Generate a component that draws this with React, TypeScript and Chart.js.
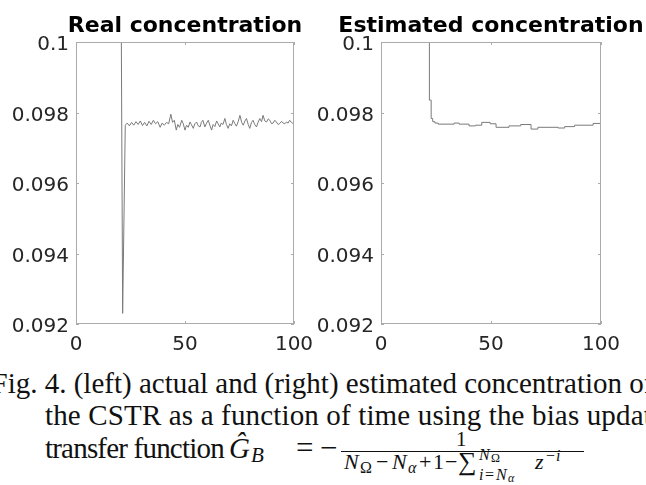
import React, { useEffect, useRef } from "react";
import { Chart, registerables } from "chart.js";

Chart.register(...registerables);

// ---------- data ----------
const realTime = [
  0, 20.8, 21.4, 22.6, 23.5, 24.5, 25.5, 26.5, 27.5, 28.5, 29.5, 30.5, 31.5, 32.5, 33.5, 34.5, 35.5,
  36.5, 37.5, 38.6, 39.5, 40.5, 41.5, 42.5, 43.5, 44.3, 45.1, 46, 46.7, 47.5, 48.5, 49.2, 50, 50.7,
  51.5, 52.3, 53, 53.8, 54.5, 55.3, 56.1, 56.9, 57.5, 58.2, 59.1, 59.9, 60.7, 61.5, 62.2, 62.9, 63.7,
  64.5, 65.2, 66, 66.6, 67.4, 68.3, 69, 69.8, 70.5, 71.3, 72.1, 72.9, 73.6, 74.4, 75.2, 76, 76.7,
  77.5, 78.2, 79, 79.7, 80.5, 81.2, 82, 82.8, 83.5, 84.3, 85.1, 85.8, 86.6, 87.4, 88.2, 88.9, 89.7,
  90.4, 91.2, 91.9, 92.7, 93.5, 94.3, 95, 95.8, 96.5, 97.3, 98, 98.8, 99.5, 100,
];
const realConc = [
  0.1, 0.1, 0.0923, 0.09764, 0.0977, 0.09762, 0.09772, 0.09764, 0.09774, 0.09766, 0.09776, 0.09763,
  0.09772, 0.09762, 0.09775, 0.09766, 0.09778, 0.09768, 0.09774, 0.09758, 0.0977, 0.09764, 0.09772,
  0.09768, 0.09795, 0.09772, 0.09778, 0.0975, 0.09766, 0.09758, 0.09778, 0.09768, 0.0975, 0.09764,
  0.09758, 0.09773, 0.09765, 0.09755, 0.09768, 0.09773, 0.09762, 0.09759, 0.09772, 0.09778, 0.09759,
  0.0977, 0.09778, 0.09762, 0.0975, 0.09766, 0.0976, 0.09776, 0.09768, 0.09759, 0.0977, 0.09766,
  0.09783, 0.09766, 0.09755, 0.09768, 0.09762, 0.09778, 0.09768, 0.09761, 0.09774, 0.09792, 0.09772,
  0.09764, 0.09776, 0.09783, 0.09766, 0.09755, 0.09772, 0.09778, 0.09766, 0.09759, 0.09772, 0.09783,
  0.09774, 0.09792, 0.09776, 0.09773, 0.09782, 0.09778, 0.09768, 0.0977, 0.09778, 0.09773, 0.09766,
  0.09769, 0.09775, 0.0977, 0.09768, 0.09773, 0.0977, 0.09778, 0.09772, 0.09769, 0.09772,
];

const estTime = [
  0, 22, 22.8, 23.5, 24.5, 26, 33.2, 35.5, 40, 43, 45.8, 49.6, 52.3, 58.2, 63.5, 68.2, 71.3, 80.5,
  83.5, 88, 96.4, 100,
];
const estConc = [
  0.1, 0.09835, 0.09783, 0.09774, 0.0977, 0.09767, 0.0977, 0.09767, 0.09762, 0.09764, 0.09772,
  0.09768, 0.09758, 0.09762, 0.09766, 0.09753, 0.09758, 0.09756, 0.0976, 0.09764, 0.09769, 0.09769,
];

const xTicks = [0, 50, 100];
const xTickLabels = ["0", "50", "100"];
const yTicks = [0.092, 0.094, 0.096, 0.098, 0.1];
const yTickLabels = ["0.092", "0.094", "0.096", "0.098", "0.1"];
const panelTitles = ["Real concentration", "Estimated concentration"];

const captionLine1 = "Fig. 4. (left) actual and (right) estimated concentration of";
const captionLine2 = "the CSTR as a function of time using the bias update";
const captionLine3 = "transfer function";

// ---------- styles ----------
const LINE = "#7a7a7a";
const BOX = "#ababab";
const TEXT = "#262626";
const SANS = "'DejaVu Sans', sans-serif";
const SERIF = "'Liberation Serif', 'Times New Roman', serif";

function makeBoxPlugin(title: string) {
  return {
    id: "matlabBox",
    afterDatasetsDraw(chart: any) {
      const { ctx, chartArea: a, scales } = chart;
      ctx.save();
      ctx.strokeStyle = BOX;
      ctx.lineWidth = 1;
      ctx.strokeRect(a.left + 0.5, a.top + 0.5, a.right - a.left - 1, a.bottom - a.top - 1);
      const tl = 3;
      ctx.beginPath();
      for (const v of xTicks) {
        const x = Math.round(scales.x.getPixelForValue(v)) + 0.5;
        ctx.moveTo(x, a.bottom);
        ctx.lineTo(x, a.bottom - tl);
        ctx.moveTo(x, a.top);
        ctx.lineTo(x, a.top + tl);
      }
      for (const v of yTicks) {
        const y = Math.round(scales.y.getPixelForValue(v)) + 0.5;
        ctx.moveTo(a.left, y);
        ctx.lineTo(a.left + tl, y);
        ctx.moveTo(a.right, y);
        ctx.lineTo(a.right - tl, y);
      }
      ctx.stroke();
      ctx.fillStyle = "#000";
      ctx.font = `bold 22px ${SANS}`;
      ctx.textAlign = "center";
      ctx.textBaseline = "alphabetic";
      ctx.fillText(title, (a.left + a.right) / 2, a.top - 10);
      ctx.restore();
    },
  };
}

function makeConfig(time: number[], conc: number[], title: string, padRight: number, stepped: boolean): any {
  return {
    type: "line",
    data: {
      datasets: [
        {
          data: time.map((t, i) => ({ x: t, y: conc[i] })),
          borderColor: LINE,
          borderWidth: 1,
          pointRadius: 0,
          tension: 0,
          fill: false,
          stepped: stepped ? "before" : false,
        },
      ],
    },
    options: {
      animation: false,
      responsive: false,
      devicePixelRatio: 1,
      layout: { padding: { top: 42, right: padRight, left: 0, bottom: 0 } },
      plugins: {
        legend: { display: false },
        tooltip: { enabled: false },
        title: { display: false },
      },
      scales: {
        x: {
          type: "linear",
          min: 0,
          max: 100,
          afterBuildTicks: (s: any) => {
            s.ticks = xTicks.map((v) => ({ value: v }));
          },
          afterFit: (s: any) => {
            s.height = 40;
          },
          ticks: {
            callback: (_v: any, i: number) => xTickLabels[i],
            font: { family: SANS, size: 20 },
            color: TEXT,
            padding: 9,
            maxRotation: 0,
            autoSkip: false,
          },
          grid: { display: false, drawTicks: false },
          border: { display: false },
        },
        y: {
          type: "linear",
          min: 0.092,
          max: 0.1,
          afterBuildTicks: (s: any) => {
            s.ticks = yTicks.map((v) => ({ value: v }));
          },
          afterFit: (s: any) => {
            s.width = 76;
          },
          ticks: {
            callback: (_v: any, i: number) => yTickLabels[i],
            font: { family: SANS, size: 20 },
            color: TEXT,
            padding: 7,
            labelOffset: 3,
            autoSkip: false,
          },
          grid: { display: false, drawTicks: false },
          border: { display: false },
        },
      },
    },
    plugins: [makeBoxPlugin(title)],
  };
}

const lineStyle: React.CSSProperties = {
  position: "absolute",
  whiteSpace: "nowrap",
  font: `29px ${SERIF}`,
  lineHeight: "29px",
  color: "#111",
};

// math glyph placed by its baseline
function M(props: { x: number; base: number; size: number; italic?: boolean; children: React.ReactNode }) {
  const { x, base, size, italic, children } = props;
  return (
    <span
      style={{
        position: "absolute",
        left: x,
        top: base - 0.8375 * size,
        fontFamily: SERIF,
        fontSize: size,
        lineHeight: `${size}px`,
        fontStyle: italic ? "italic" : "normal",
        whiteSpace: "nowrap",
        color: "#111",
      }}
    >
      {children}
    </span>
  );
}

export default function App() {
  const leftRef = useRef<HTMLCanvasElement>(null);
  const rightRef = useRef<HTMLCanvasElement>(null);

  useEffect(() => {
    const c1 = new Chart(leftRef.current as HTMLCanvasElement, makeConfig(realTime, realConc, panelTitles[0], 29, false));
    const c2 = new Chart(rightRef.current as HTMLCanvasElement, makeConfig(estTime, estConc, panelTitles[1], 45, true));
    return () => {
      c1.destroy();
      c2.destroy();
    };
  }, []);

  const D = 469; // denominator baseline
  const ds = 22; // denominator size
  const ss = 16; // script-script size

  return (
    <div
      style={{
        position: "absolute",
        left: 0,
        top: 0,
        width: 646,
        height: 485,
        overflow: "hidden",
        background: "#fff",
      }}
    >
      <canvas
        ref={leftRef}
        width={323}
        height={364}
        style={{ position: "absolute", left: 0, top: 0, width: 323, height: 364 }}
      />
      <canvas
        ref={rightRef}
        width={341}
        height={364}
        style={{ position: "absolute", left: 305, top: 0, width: 341, height: 364 }}
      />

      <div style={{ ...lineStyle, left: -8.5, top: 369 }}>{captionLine1}</div>
      <div style={{ ...lineStyle, left: 45, top: 401, letterSpacing: 0.15 }}>{captionLine2}</div>
      <div style={{ ...lineStyle, left: 45, top: 434, letterSpacing: -0.8 }}>{captionLine3}</div>

      <M x={229} base={458} size={29} italic>
        Ĝ
      </M>
      <M x={251} base={463} size={21} italic>
        B
      </M>
      <M x={296} base={458} size={31}>
        =
      </M>
      <M x={320} base={458} size={31}>
        −
      </M>

      {/* fraction */}
      <M x={456} base={447} size={21}>
        1
      </M>
      <div style={{ position: "absolute", left: 341, top: 451, width: 243, height: 1, background: "#111" }} />

      <M x={344} base={D} size={ds} italic>
        N
      </M>
      <M x={360} base={D + 4} size={ss}>
        Ω
      </M>
      <M x={376} base={D} size={ds}>
        −
      </M>
      <M x={392} base={D} size={ds} italic>
        N
      </M>
      <M x={408} base={D + 4} size={ss} italic>
        α
      </M>
      <M x={419} base={D} size={ds}>
        +
      </M>
      <M x={433} base={D} size={ds}>
        1
      </M>
      <M x={445} base={D} size={ds}>
        −
      </M>
      <M x={458} base={D + 2} size={26}>
        ∑
      </M>
      <M x={479} base={D - 9} size={ss} italic>
        N
      </M>
      <M x={491} base={D - 7} size={12}>
        Ω
      </M>
      <M x={479} base={D + 11} size={ss} italic>
        i
      </M>
      <M x={485} base={D + 11} size={ss}>
        =
      </M>
      <M x={496} base={D + 11} size={ss} italic>
        N
      </M>
      <M x={508} base={D + 13} size={12} italic>
        α
      </M>
      <M x={535} base={D} size={ds} italic>
        z
      </M>
      <M x={546} base={D - 8} size={ss}>
        −
      </M>
      <M x={556} base={D - 8} size={ss} italic>
        i
      </M>
    </div>
  );
}
